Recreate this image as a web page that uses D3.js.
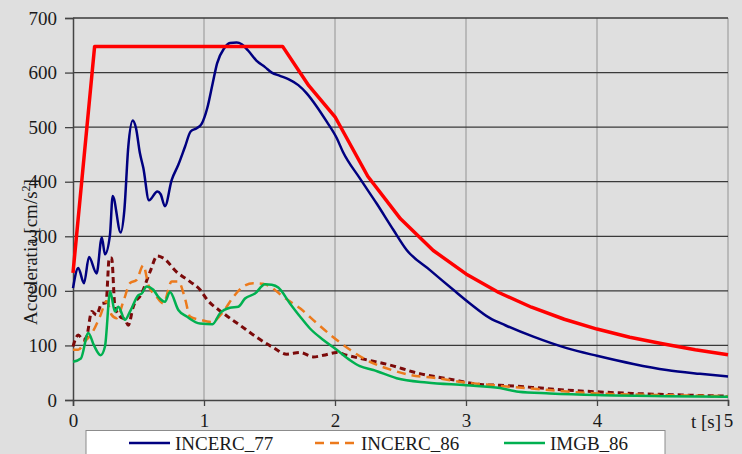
<!DOCTYPE html>
<html>
<head>
<meta charset="utf-8">
<script src="https://cdn.jsdelivr.net/npm/d3@7"></script>
<style>
	body { margin: 0; background: #dfdfdf; }
	svg text { font-family: "Times New Roman", "Liberation Serif", "DejaVu Serif", serif; }
</style>
</head>
<body>
<svg id="chart" width="742" height="454" viewBox="0 0 742 454"></svg>
<script>
// [t (s), acceleration (cm/s2)]
const spectrumP100 = [[0, 233], [0.165, 648], [1.6, 648], [1.8, 576], [2.0, 519], [2.25, 410], [2.5, 332], [2.75, 274], [3.0, 231], [3.25, 197], [3.5, 170], [3.75, 148], [4.0, 130], [4.25, 115], [4.5, 103], [4.75, 92], [5.0, 83]];

const incerc77 = [[0, 205], [0.04, 242], [0.084, 214], [0.122, 262], [0.18, 232], [0.22, 298], [0.244, 267], [0.282, 302], [0.303, 374], [0.364, 307], [0.392, 348], [0.422, 464], [0.456, 512], [0.481, 498], [0.511, 452], [0.537, 425], [0.58, 366], [0.644, 382], [0.669, 377], [0.702, 355], [0.753, 403], [0.804, 431], [0.855, 464], [0.898, 492], [0.944, 498], [0.982, 506], [1.025, 535], [1.066, 580], [1.1, 617], [1.153, 644], [1.198, 654], [1.249, 655], [1.288, 652], [1.338, 640], [1.4, 622], [1.466, 610], [1.517, 600], [1.58, 594], [1.644, 588], [1.72, 577], [1.784, 562], [1.86, 538], [1.937, 510], [2.013, 480], [2.06, 455], [2.19, 406], [2.318, 360], [2.445, 312], [2.547, 275], [2.725, 238], [2.903, 202], [3.03, 177], [3.183, 150], [3.3, 137], [3.514, 116], [3.769, 95], [4.0, 81], [4.277, 66], [4.532, 55], [4.786, 48], [5.0, 43]];

const vrancea90 = [[0, 98], [0.04, 119], [0.08, 110], [0.104, 116], [0.143, 162], [0.18, 156], [0.219, 177], [0.252, 178], [0.277, 260], [0.295, 260], [0.32, 171], [0.359, 153], [0.397, 147], [0.422, 137], [0.46, 171], [0.524, 195], [0.588, 235], [0.644, 264], [0.69, 260], [0.79, 235], [0.893, 217], [0.97, 202], [1.02, 185], [1.147, 159], [1.275, 137], [1.402, 115], [1.529, 96], [1.631, 84], [1.733, 87], [1.835, 79], [1.911, 82], [2.013, 87], [2.09, 82], [2.216, 75], [2.42, 64], [2.62, 50], [2.878, 38], [3.13, 28], [3.26, 27], [3.51, 23], [3.77, 18], [4.0, 15], [4.27, 12], [4.53, 10], [5.0, 7]];

const incerc86 = [[0, 92], [0.04, 92], [0.09, 107], [0.143, 122], [0.206, 153], [0.257, 181], [0.295, 156], [0.333, 150], [0.384, 180], [0.435, 214], [0.486, 220], [0.537, 247], [0.575, 211], [0.639, 189], [0.69, 177], [0.753, 217], [0.804, 217], [0.855, 186], [0.893, 153], [0.97, 147], [1.059, 143], [1.147, 162], [1.224, 189], [1.3, 208], [1.376, 214], [1.45, 213], [1.504, 208], [1.605, 189], [1.733, 168], [1.86, 141], [1.987, 115], [2.115, 92], [2.267, 70], [2.42, 56], [2.573, 46], [2.776, 40], [3.0, 32], [3.26, 26], [3.5, 21], [4.0, 12], [4.5, 9], [5.0, 7]];

const imgb86 = [[0, 70], [0.06, 76], [0.117, 123], [0.16, 100], [0.211, 82], [0.244, 98], [0.284, 199], [0.32, 162], [0.346, 171], [0.397, 147], [0.435, 162], [0.499, 192], [0.524, 195], [0.562, 208], [0.613, 202], [0.651, 189], [0.702, 180], [0.74, 198], [0.804, 165], [0.868, 153], [0.97, 140], [1.065, 139], [1.122, 159], [1.198, 169], [1.262, 171], [1.313, 186], [1.389, 195], [1.466, 212], [1.517, 211], [1.567, 206], [1.656, 177], [1.733, 153], [1.809, 131], [1.911, 110], [2.013, 92], [2.115, 73], [2.19, 62], [2.293, 55], [2.47, 40], [2.7, 32], [3.0, 27], [3.26, 22], [3.4, 15], [3.64, 12], [4.0, 9], [4.53, 7], [5.0, 6]];

const xTicks = [0, 1, 2, 3, 4, 5];
const yTicks = [0, 100, 200, 300, 400, 500, 600, 700];
const legendNames = ["INCERC_77", "INCERC_86", "IMGB_86"];

const svg = d3.select("#chart");

const x = d3.scaleLinear().domain([0, 5]).range([73, 728]);
const y = d3.scaleLinear().domain([0, 700]).range([400, 18]);

svg.append("rect").attr("width", 742).attr("height", 454).attr("fill", "#dfdfdf");

// grid
svg.append("g")
	.selectAll("line")
	.data(xTicks.slice(1))
	.join("line")
	.attr("x1", d => x(d)).attr("x2", d => x(d))
	.attr("y1", y(700)).attr("y2", y(0))
	.attr("stroke", "#adadad")
	.attr("stroke-width", 1.5);

svg.append("g")
	.selectAll("line")
	.data(yTicks.slice(1))
	.join("line")
	.attr("x1", x(0)).attr("x2", x(5))
	.attr("y1", d => y(d)).attr("y2", d => y(d))
	.attr("stroke", "#3a3a3a")
	.attr("stroke-width", 1.3);

// axes
const yAxis = svg.append("g")
	.attr("transform", `translate(${x(0)},0)`)
	.call(d3.axisLeft(y).tickValues(yTicks).tickSize(8).tickPadding(8).tickFormat(d3.format("d")));
const xAxis = svg.append("g")
	.attr("transform", `translate(0,${y(0)})`)
	.call(d3.axisBottom(x).tickValues(xTicks).tickSize(6).tickPadding(8).tickFormat(d3.format("d")));

[yAxis, xAxis].forEach(a => {
	a.attr("font-family", null).attr("font-size", null);
	a.select(".domain").attr("stroke", "#444").attr("stroke-width", 1.5);
	a.selectAll(".tick line").attr("stroke", "#444").attr("stroke-width", 1.3);
	a.selectAll("text")
		.attr("fill", "#1a1a1a")
		.style("font-size", "19px");
});
xAxis.selectAll(".tick text").attr("dy", "0.71em");

svg.append("text")
	.attr("x", 721)
	.attr("y", 428)
	.attr("text-anchor", "end")
	.attr("fill", "#1a1a1a")
	.style("font-size", "19px")
	.text("t [s]");

const yLabel = svg.append("text")
	.attr("transform", "translate(37,252) rotate(-90)")
	.attr("text-anchor", "middle")
	.attr("fill", "#1a1a1a")
	.style("font-size", "19px");
yLabel.append("tspan").text("Acceleratia [cm/s");
yLabel.append("tspan").attr("dy", -7).style("font-size", "12px").text("2");
yLabel.append("tspan").attr("dy", 7).text("]");

// series
const line = d3.line().x(d => x(d[0])).y(d => y(d[1]));
const smooth = d3.line().x(d => x(d[0])).y(d => y(d[1])).curve(d3.curveMonotoneX);

const series = [
	{ data: vrancea90, color: "#7b0a0a", width: 3, dash: "6,4", gen: smooth },
	{ data: incerc86, color: "#ec7a1c", width: 2.5, dash: "9,6", gen: smooth },
	{ data: imgb86, color: "#00b050", width: 2.5, dash: null, gen: smooth },
	{ data: incerc77, color: "#000080", width: 2.5, dash: null, gen: smooth },
	{ data: spectrumP100, color: "#ff0000", width: 3.5, dash: null, gen: line }
];

svg.append("g")
	.selectAll("path")
	.data(series)
	.join("path")
	.attr("d", d => d.gen(d.data))
	.attr("fill", "none")
	.attr("stroke", d => d.color)
	.attr("stroke-width", d => d.width)
	.attr("stroke-dasharray", d => d.dash)
	.attr("stroke-linejoin", "round");

// legend (partly cut off at the bottom)
const legend = svg.append("g");
legend.append("rect")
	.attr("x", 86).attr("y", 430.5)
	.attr("width", 579).attr("height", 40)
	.attr("fill", "#fff")
	.attr("stroke", "#8c8c8c");

const legendItems = [
	{ name: legendNames[0], color: "#000080", dash: null, x: 129 },
	{ name: legendNames[1], color: "#ec7a1c", dash: "9,6", x: 315 },
	{ name: legendNames[2], color: "#00b050", dash: null, x: 504 }
];
const li = legend.selectAll(".item").data(legendItems).join("g").attr("class", "item");
li.append("line")
	.attr("x1", d => d.x).attr("x2", d => d.x + 41)
	.attr("y1", 443).attr("y2", 443)
	.attr("stroke", d => d.color)
	.attr("stroke-width", 2.5)
	.attr("stroke-dasharray", d => d.dash);
li.append("text")
	.attr("x", d => d.x + 46)
	.attr("y", 450)
	.attr("fill", "#1a1a1a")
	.style("font-size", "19px")
	.text(d => d.name);
</script>
</body>
</html>
